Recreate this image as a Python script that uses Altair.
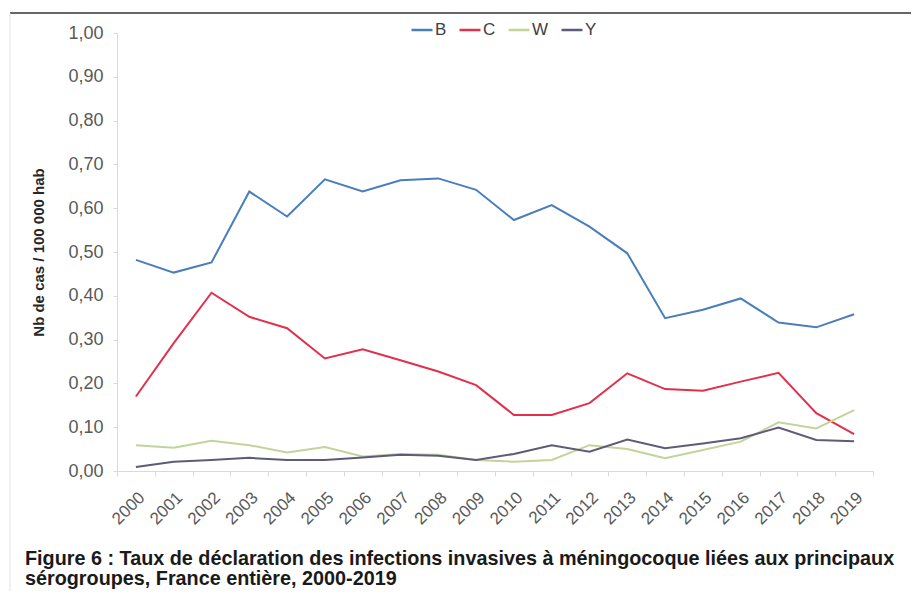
import altair as alt
import pandas as pd

years = [str(y) for y in range(2000, 2020)]
series_names = ["B", "C", "W", "Y"]
B = [0.482, 0.453, 0.476, 0.638, 0.581, 0.666, 0.638, 0.664, 0.668, 0.642,
     0.573, 0.607, 0.558, 0.497, 0.349, 0.368, 0.394, 0.339, 0.328, 0.358]
C = [0.170, 0.292, 0.407, 0.352, 0.326, 0.257, 0.278, 0.253, 0.227, 0.196,
     0.128, 0.128, 0.155, 0.223, 0.187, 0.183, 0.204, 0.224, 0.132, 0.084]
W = [0.059, 0.053, 0.069, 0.059, 0.042, 0.055, 0.033, 0.039, 0.037, 0.025,
     0.021, 0.025, 0.059, 0.050, 0.029, 0.048, 0.067, 0.111, 0.097, 0.139]
Y = [0.009, 0.021, 0.025, 0.030, 0.025, 0.025, 0.031, 0.037, 0.035, 0.025,
     0.039, 0.059, 0.044, 0.072, 0.052, 0.063, 0.075, 0.099, 0.071, 0.068]
colors = ["#4A7EBB", "#E2304C", "#C2D49A", "#5E5B78"]
y_ticks = [0.0, 0.1, 0.2, 0.3, 0.4, 0.5, 0.6, 0.7, 0.8, 0.9, 1.0]
caption = ["Figure 6 : Taux de déclaration des infections invasives à méningocoque liées aux principaux",
           "sérogroupes, France entière, 2000-2019"]

rows = []
for name, vals in zip(series_names, [B, C, W, Y]):
    for yr, v in zip(years, vals):
        rows.append({"Année": yr, "Sérogroupe": name, "Taux": v})
df = pd.DataFrame(rows)

FONT = "Liberation Sans"

lines = alt.Chart(df).mark_line(strokeWidth=2).encode(
    x=alt.X("Année:O", sort=years,
            scale=alt.Scale(type="band", paddingInner=0, paddingOuter=0),
            axis=alt.Axis(title=None, labelAngle=-45, labelFontSize=17, labelColor="#595959",
                          labelFont=FONT, domainColor="#D9D9D9", tickColor="#D9D9D9",
                          tickSize=5, tickBand="extent", labelPadding=13)),
    y=alt.Y("Taux:Q", scale=alt.Scale(domain=[0, 1], nice=False),
            axis=alt.Axis(title="Nb de cas / 100 000 hab", values=y_ticks,
                          labelExpr="replace(format(datum.value, '.2f'), '.', ',')",
                          labelFontSize=18, labelColor="#595959", labelFont=FONT,
                          titleFont=FONT, titleFontSize=15, titleFontWeight="bold",
                          titleColor="#262626", titlePadding=21,
                          domainColor="#D9D9D9", tickColor="#D9D9D9", tickSize=4,
                          labelPadding=10, grid=False)),
    color=alt.Color("Sérogroupe:N", sort=series_names,
                    scale=alt.Scale(domain=series_names, range=colors),
                    legend=alt.Legend(title=None, orient="none", direction="horizontal",
                                      legendX=293, legendY=-15, symbolType="stroke",
                                      symbolSize=440, symbolStrokeWidth=2.5,
                                      labelFontSize=17, labelFont=FONT, labelColor="#404040",
                                      labelOffset=1, columnPadding=7)),
)

border = alt.Chart(pd.DataFrame({"a": [0]})).mark_rule(color="#333333", strokeWidth=1.5).encode(
    x=alt.value(-107), x2=alt.value(802), y=alt.value(-20)
)
border_left = alt.Chart(pd.DataFrame({"a": [0]})).mark_rule(color="#E3E3E3", strokeWidth=1).encode(
    x=alt.value(-107), y=alt.value(-20), y2=alt.value(566)
)

chart = alt.layer(border, border_left, lines).properties(
    width=756, height=438,
    autosize=alt.AutoSizeParams(type="none"),
    padding={"left": 109, "top": 25, "right": 38, "bottom": 120},
    title=alt.TitleParams(text=caption, orient="bottom", anchor="start", frame="group",
                          dx=-92, offset=-51, font=FONT, fontSize=19.8, fontWeight="bold",
                          color="#1A1A1A", lineHeight=20.5),
).configure(background="white").configure_view(strokeWidth=0)

chart.save("out.html", embed_options={"renderer": "svg", "actions": False})
